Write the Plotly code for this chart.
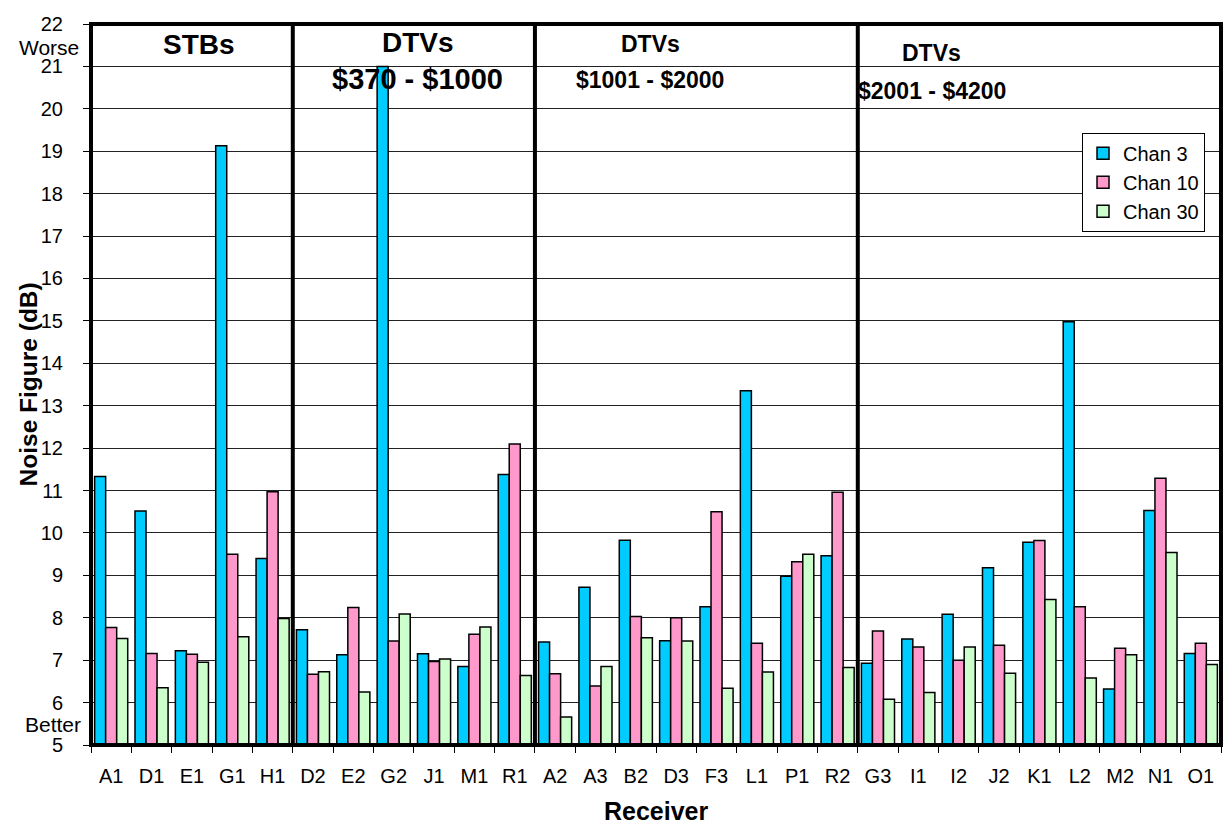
import plotly.graph_objects as go

receivers = ["A1", "D1", "E1", "G1", "H1",
             "D2", "E2", "G2", "J1", "M1", "R1",
             "A2", "A3", "B2", "D3", "F3", "L1", "P1", "R2",
             "G3", "I1", "I2", "J2", "K1", "L2", "M2", "N1", "O1"]

chan3 = [11.33, 10.52, 7.22, 19.13, 9.40,
         7.72, 7.13, 21.00, 7.15, 6.85, 11.38,
         7.43, 8.72, 9.83, 7.46, 8.26, 13.35, 8.98, 9.46,
         6.93, 7.50, 8.08, 9.18, 9.78, 14.98, 6.32, 10.53, 7.16]
chan10 = [7.77, 7.16, 7.14, 9.50, 10.97,
          6.67, 8.24, 7.45, 6.97, 7.61, 12.10,
          6.68, 6.39, 8.03, 8.00, 10.50, 7.40, 9.32, 10.96,
          7.69, 7.31, 7.00, 7.35, 9.82, 8.26, 7.28, 11.29, 7.40]
chan30 = [7.51, 6.35, 6.95, 7.55, 7.98,
          6.73, 6.25, 8.09, 7.03, 7.78, 6.64,
          5.66, 6.85, 7.53, 7.45, 6.34, 6.72, 9.50, 6.83,
          6.08, 6.24, 7.31, 6.69, 8.43, 6.58, 7.13, 9.54, 6.90]

series_names = ["Chan 3", "Chan 10", "Chan 30"]
series_colors = ["#00CCFF", "#FF99CC", "#CCFFCC"]

group_sizes = [5, 6, 8, 9]
group_titles = ["<b>STBs</b>",
                "<b>DTVs</b>", "<b>$370 - $1000</b>",
                "<b>DTVs</b>", "<b>$1001 - $2000</b>",
                "<b>DTVs</b>", "<b>$2001 - $4200</b>"]

y_ticks = list(range(5, 23))

FONT = "Liberation Sans, Arial, sans-serif"

fig = go.Figure()
for name, vals, col in zip(series_names, [chan3, chan10, chan30], series_colors):
    fig.add_trace(go.Bar(
        x=receivers, y=vals, name=name,
        marker=dict(color=col, line=dict(color="black", width=1.5)),
    ))

# group separator lines at category boundaries
shapes = []
b = -0.5
for gs in group_sizes[:-1]:
    b += gs
    shapes.append(dict(type="line", xref="x", yref="paper", x0=b, x1=b, y0=0, y1=1,
                       line=dict(color="black", width=4), layer="above"))
# plot frame
shapes.append(dict(type="rect", xref="paper", yref="paper", x0=0, x1=1, y0=0, y1=1,
                   line=dict(color="black", width=4), layer="above"))

annotations = []
title_pos = [(0.0956, 0.972, 28), (0.289, 0.974, 28), (0.289, 0.924, 29),
             (0.4947, 0.972, 23), (0.4947, 0.922, 23), (0.7442, 0.960, 23),
             (0.7442, 0.907, 23)]
for txt, (xp, yp, fs) in zip(group_titles, title_pos):
    annotations.append(dict(text=txt, xref="paper", yref="paper", x=xp, y=yp,
                            xanchor="center", yanchor="middle", showarrow=False,
                            font=dict(family=FONT, size=fs, color="black")))
annotations.append(dict(text="Worse", xref="paper", yref="paper", x=-0.0088, y=0.968,
                        xanchor="right", yanchor="middle", showarrow=False,
                        font=dict(family=FONT, size=21, color="black")))
annotations.append(dict(text="Better", xref="paper", yref="paper", x=-0.0070, y=0.0290,
                        xanchor="right", yanchor="middle", showarrow=False,
                        font=dict(family=FONT, size=21, color="black")))
annotations.append(dict(text="<b>Noise Figure (dB)</b>", xref="paper", yref="paper",
                        x=-0.0549, y=0.5, xanchor="center", yanchor="middle",
                        textangle=-90, showarrow=False,
                        font=dict(family=FONT, size=24.5, color="black")))
annotations.append(dict(text="<b>Receiver</b>", xref="paper", yref="paper",
                        x=0.5, y=-0.0915, xanchor="center", yanchor="middle",
                        showarrow=False,
                        font=dict(family=FONT, size=25, color="black")))

fig.update_layout(
    width=1225, height=835,
    margin=dict(l=91, r=4, t=24, b=90),
    paper_bgcolor="white", plot_bgcolor="white",
    barmode="group", bargap=0.18, bargroupgap=0,
    font=dict(family=FONT, size=20, color="black"),
    showlegend=True,
    legend=dict(x=0.877, y=0.849, xanchor="left", yanchor="top",
                bgcolor="white", bordercolor="black", borderwidth=1,
                font=dict(family=FONT, size=20, color="black"),
                tracegroupgap=0, itemwidth=30),
    shapes=shapes, annotations=annotations,
    xaxis=dict(type="category", tickson="boundaries", ticks="outside", ticklen=7,
               tickcolor="black", tickwidth=1, showgrid=False, showline=False,
               tickfont=dict(family=FONT, size=20, color="black"),
               ticklabelstandoff=17),
    yaxis=dict(range=[5, 22], tickvals=y_ticks, ticks="outside", ticklen=7,
               tickcolor="black", tickwidth=1, showgrid=True, gridcolor="#222222",
               gridwidth=1, zeroline=False, showline=False,
               tickfont=dict(family=FONT, size=20, color="black"),
               ticklabelstandoff=16),
)

fig.write_html("out.html",
               config={"displayModeBar": False},
               post_script="document.body.style.margin='0';document.body.style.overflow='hidden';")
